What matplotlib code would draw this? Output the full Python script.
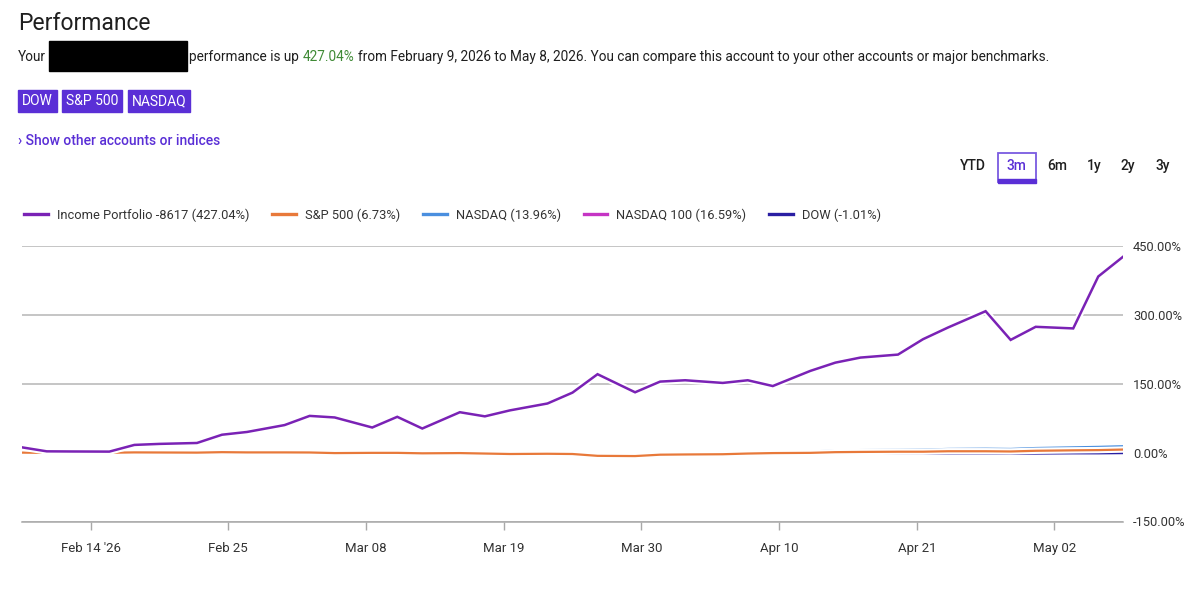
import matplotlib
matplotlib.use("Agg")
import matplotlib.pyplot as plt
import matplotlib.patheffects as pe
from matplotlib.patches import Rectangle
from matplotlib.lines import Line2D
import pandas as pd

plt.rcParams['font.family'] = ['Roboto', 'DejaVu Sans']

# ---------------------------------------------------------
# Data (Mon/Wed/Fri samples)
# ---------------------------------------------------------
dates = pd.to_datetime([
    "2026-02-09", "2026-02-11", "2026-02-13", "2026-02-16", "2026-02-18", "2026-02-20",
    "2026-02-23", "2026-02-25", "2026-02-27",
    "2026-03-02", "2026-03-04", "2026-03-06", "2026-03-09", "2026-03-11", "2026-03-13",
    "2026-03-16", "2026-03-18", "2026-03-20", "2026-03-23", "2026-03-25", "2026-03-27",
    "2026-03-30",
    "2026-04-01", "2026-04-03", "2026-04-06", "2026-04-08", "2026-04-10", "2026-04-13",
    "2026-04-15", "2026-04-17", "2026-04-20", "2026-04-22", "2026-04-24", "2026-04-27",
    "2026-04-29",
    "2026-05-01", "2026-05-04", "2026-05-06", "2026-05-08",
])

income = [11.6, 2.8, 2.5, 2.2, 16.8, 19.0, 21.0, 39.0, 45.0,
          60.0, 80.0, 76.6, 54.7, 78.0, 52.5, 88.0, 79.0, 92.0, 107.0, 130.7, 170.8, 131.4,
          154.7, 157.6, 151.8, 157.6, 145.0, 178.0, 196.0, 207.0, 213.5, 247.0, 272.5, 308.0, 245.5,
          274.0, 270.5, 383.6, 427.04]

sp500 = [0.0, -0.5, -0.5, -0.3, 0.5, 0.3, 0.0, 1.0, 0.5,
         0.5, 0.3, -1.0, -0.5, -0.5, -1.5, -1.0, -2.0, -3.0, -2.5, -3.0, -7.0, -7.5,
         -4.5, -4.0, -3.5, -2.0, -1.0, -0.5, 1.0, 1.5, 2.0, 2.0, 3.0, 3.0, 2.5,
         4.0, 5.0, 5.5, 6.73]

nasdaq = [0.0, -0.5, -1.0, -1.0, 0.0, -0.5, -1.0, 0.5, -0.5,
          0.0, 0.5, -1.0, 0.0, 0.5, -1.0, 0.0, -0.5, -2.0, -1.0, -1.5, -5.5, -6.0,
          -2.0, -1.5, -1.0, 0.5, 1.5, 2.5, 4.5, 5.5, 6.0, 6.5, 8.0, 8.5, 8.0,
          10.0, 11.5, 12.5, 13.96]

nasdaq100 = [0.0, -0.5, -1.0, -1.0, 0.0, -0.5, -1.0, 0.5, -0.5,
             0.0, 1.0, -0.5, 0.5, 1.0, -0.5, 0.5, 0.0, -1.5, -0.5, -1.0, -5.0, -5.5,
             -1.5, -1.0, -0.5, 1.0, 2.5, 3.5, 5.5, 6.5, 7.5, 8.0, 9.5, 10.0, 9.5,
             12.0, 13.5, 15.0, 16.59]

dow = [0.0, 0.5, 0.5, 0.5, 1.0, 0.5, 0.0, 1.0, 0.5,
       0.0, -0.5, -1.5, -1.5, -2.0, -2.5, -2.0, -3.0, -4.0, -3.5, -4.0, -8.0, -8.5,
       -5.5, -5.0, -5.0, -3.5, -3.0, -2.5, -2.0, -2.0, -2.0, -2.5, -2.0, -2.0, -2.5,
       -2.0, -1.5, -1.5, -1.01]

series_labels = ["Income Portfolio -8617 (427.04%)", "S&P 500 (6.73%)", "NASDAQ (13.96%)",
                 "NASDAQ 100 (16.59%)", "DOW (-1.01%)"]
series_colors = ["#7a22b5", "#e8793a", "#4a8fdf", "#c534c4", "#2a1fa3"]

y_ticks = [-150, 0, 150, 300, 450]
x_tick_dates = pd.to_datetime(["2026-02-14", "2026-02-25", "2026-03-08", "2026-03-19",
                               "2026-03-30", "2026-04-10", "2026-04-21", "2026-05-02"])
x_tick_labels = ["Feb 14 '26", "Feb 25", "Mar 08", "Mar 19", "Mar 30", "Apr 10", "Apr 21", "May 02"]

buttons = ["DOW", "S&P 500", "NASDAQ"]
ranges = ["YTD", "3m", "6m", "1y", "2y", "3y"]

PURPLE_UI = "#5a2fd6"
TEXT = "#1f1f1f"

# ---------------------------------------------------------
# Figure + header
# ---------------------------------------------------------
W, H = 1200, 594
fig = plt.figure(figsize=(12, 5.94), dpi=100)


def fx(px):
    return px / W


def fy(py):
    return 1 - py / H


bg = fig.add_axes([0, 0, 1, 1])
bg.axis("off")
bg.set_xlim(0, 1)
bg.set_ylim(0, 1)

fig.text(fx(18), fy(23), "Performance", fontsize=16.5, va="center", ha="left", color=TEXT)

fs = 9.8
fig.text(fx(18), fy(57), "Your", fontsize=fs, va="center", color=TEXT)
bg.add_patch(Rectangle((fx(49), fy(71)), 138 / W, 30 / H, color="black"))
t1 = bg.text(fx(189), fy(57), "performance is up", fontsize=fs, va="center", color=TEXT)
t2 = bg.annotate("427.04%", xy=(1, 0), xycoords=t1, xytext=(2.8, 0), textcoords="offset points",
                 fontsize=fs, va="bottom", color="#3f8a35")
bg.annotate("from February 9, 2026 to May 8, 2026. You can compare this account to your other "
            "accounts or major benchmarks.", xy=(1, 0), xycoords=t2, xytext=(2.8, 0),
            textcoords="offset points", fontsize=fs, va="bottom", color=TEXT)

# index buttons
btn_x = [(18, 57), (62, 122), (128, 190)]
for name, (x0, x1) in zip(buttons, btn_x):
    bg.add_patch(Rectangle((fx(x0), fy(112)), (x1 - x0) / W, 22 / H, color=PURPLE_UI))
    bg.text(fx((x0 + x1) / 2), fy(101), name, fontsize=10, color="white", ha="center", va="center")

bg.text(fx(18), fy(141), "\u203a Show other accounts or indices", fontsize=10, color=PURPLE_UI,
        va="center", weight="medium")

# time range selector
range_x = [973, 1016, 1057, 1094, 1128, 1163]
for name, x in zip(ranges, range_x):
    bg.text(fx(x), fy(166), name, fontsize=10, ha="center", va="center",
            color=PURPLE_UI if name == "3m" else TEXT, weight="medium")
bg.add_patch(Rectangle((fx(998), fy(182)), 38 / W, 29 / H, facecolor="none",
                       edgecolor="#7a5be0", lw=1.3))
bg.add_patch(Rectangle((fx(998), fy(183)), 38 / W, 4 / H, color=PURPLE_UI))

# ---------------------------------------------------------
# Chart
# ---------------------------------------------------------
ax = fig.add_axes([fx(21.7), fy(521.5), (1123.3 - 21.7) / W, (521.5 - 246) / H])

all_series = [income, sp500, nasdaq, nasdaq100, dow]
# draw benchmarks first so the portfolio sits on top
for i in reversed(range(len(all_series))):
    lw = 1.8 if i == 0 else 1.6
    ax.plot(dates, all_series[i], color=series_colors[i], lw=lw, zorder=5 - i,
            solid_joinstyle="miter",
            path_effects=[pe.Stroke(linewidth=lw + 3, foreground="white"), pe.Normal()])

ax.set_xlim(dates[0], dates[-1])
ax.set_ylim(-150, 450)
ax.set_axisbelow(True)

ax.set_yticks(y_ticks)
ax.set_yticklabels([f"{v:.2f}%" for v in y_ticks])
ax.yaxis.tick_right()
ax.tick_params(axis="y", length=0, pad=7, labelsize=9.3, labelcolor="#333333")
ax.grid(axis="y", color="#b5b5b5", lw=1.1)

ax.set_xticks(x_tick_dates + pd.Timedelta(hours=12))
ax.set_xticklabels(x_tick_labels)
ax.tick_params(axis="x", length=6, width=1, color="#a8a8a8", pad=9, labelsize=9.5,
               labelcolor="#333333")

for side in ["top", "left", "right"]:
    ax.spines[side].set_visible(False)
ax.spines["bottom"].set_color("#a8a8a8")
ax.spines["bottom"].set_linewidth(1.1)

# legend
handles = [Line2D([], [], color=c, lw=2.4) for c in series_colors]
fig.legend(handles, series_labels, loc="center left", bbox_to_anchor=(fx(24), fy(215)),
           ncol=5, frameon=False, fontsize=9.3, handlelength=1.85, handletextpad=0.7,
           columnspacing=1.75, borderaxespad=0, borderpad=0, labelcolor="#333333")

fig.savefig("out.png", dpi=100)
